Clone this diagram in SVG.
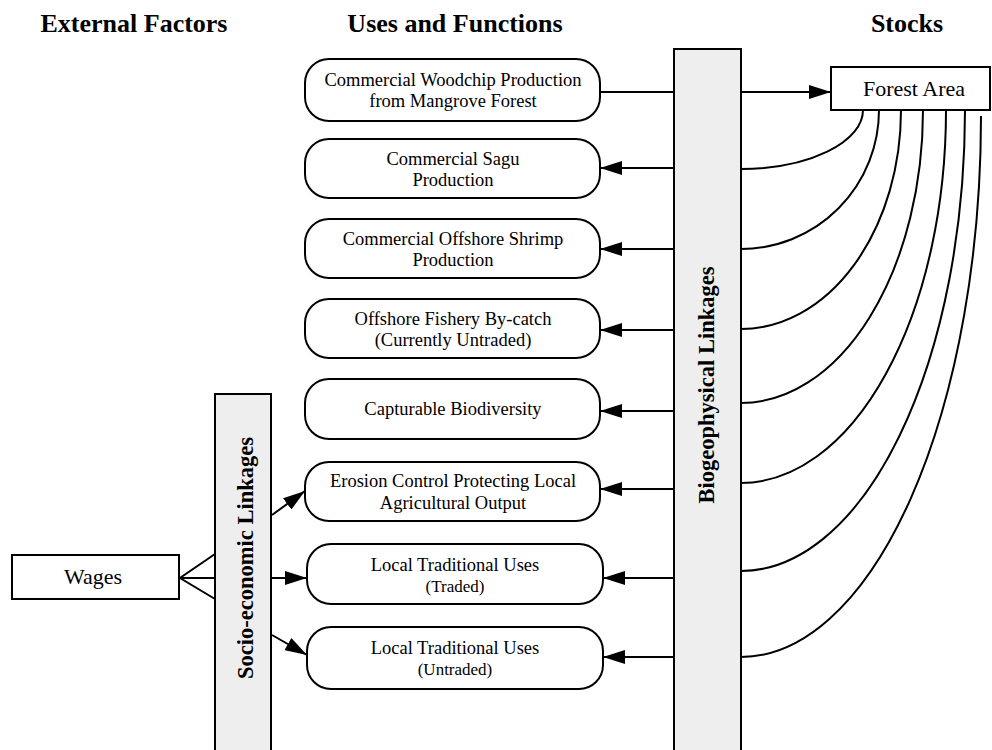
<svg xmlns="http://www.w3.org/2000/svg" width="992" height="750" viewBox="0 0 992 750">
<defs>
<marker id="ah" viewBox="0 0 22 14" refX="22" refY="7" markerWidth="22" markerHeight="14" markerUnits="userSpaceOnUse" orient="auto"><path d="M0,0 L22,7 L0,14 Z" fill="#000"/></marker>
</defs>
<style>
text{font-family:"Liberation Serif","Times New Roman",serif;fill:#000}
.hdr{font-weight:bold;font-size:26px;text-anchor:middle}
.t{font-size:18.5px;text-anchor:middle}
.ts{font-size:17px}
.big{font-size:22px;text-anchor:middle}
.box{fill:#fff;stroke:#000;stroke-width:2}
.bar{fill:#eeeeee;stroke:#000;stroke-width:2}
.vt{font-weight:bold;font-size:22.5px;text-anchor:middle}
.ln{fill:none;stroke:#000;stroke-width:2}
.ar{fill:none;stroke:#000;stroke-width:2;marker-end:url(#ah)}
</style>
<rect width="992" height="750" fill="#fff"/>

<g id="headers">
<text class="hdr" x="134" y="32">External Factors</text>
<text class="hdr" x="455" y="32">Uses and Functions</text>
<text class="hdr" x="907" y="32">Stocks</text>
</g>

<g id="connectors">
<line class="ln" x1="600" y1="92" x2="674" y2="92"/>
<line class="ar" x1="741" y1="92" x2="831" y2="92"/>
<line class="ar" x1="674" y1="168" x2="600" y2="168"/>
<line class="ar" x1="674" y1="249" x2="600" y2="249"/>
<line class="ar" x1="674" y1="330" x2="600" y2="330"/>
<line class="ar" x1="674" y1="411" x2="600" y2="411"/>
<line class="ar" x1="674" y1="489" x2="600" y2="489"/>
<line class="ar" x1="674" y1="578" x2="603" y2="578"/>
<line class="ar" x1="674" y1="657" x2="603" y2="657"/>
<path class="ln" d="M863,110 A122,59 0 0 1 741,169"/>
<path class="ln" d="M879,110 A138,139 0 0 1 741,249"/>
<path class="ln" d="M901,110 A160,219 0 0 1 741,329"/>
<path class="ln" d="M923,110 A182,293 0 0 1 741,403"/>
<path class="ln" d="M946,110 A205,373 0 0 1 741,483"/>
<path class="ln" d="M965,110 A224,461 0 0 1 741,571"/>
<path class="ln" d="M981,116 A240,541 0 0 1 741,657"/>
<path class="ln" d="M215,554 L180,578 L215,599 M180,578 L215,578"/>
<line class="ar" x1="272" y1="515" x2="305" y2="491"/>
<line class="ar" x1="272" y1="578" x2="307" y2="578"/>
<line class="ar" x1="272" y1="635" x2="307" y2="655"/>
</g>

<g id="bio-bar">
<rect class="bar" x="674" y="49" width="67" height="720"/>
<text class="vt" x="714" y="385" transform="rotate(-90 714 385)">Biogeophysical Linkages</text>
</g>

<g id="socio-bar">
<rect class="bar" x="215" y="394" width="56" height="380"/>
<text class="vt" x="253" y="558" transform="rotate(-90 253 558)">Socio-economic Linkages</text>
</g>

<g id="forest-area">
<rect class="box" x="831" y="67" width="159" height="43"/>
<text class="big" x="914" y="96">Forest Area</text>
</g>

<g id="wages">
<rect class="box" x="12" y="555" width="167" height="44"/>
<text class="big" x="93" y="584">Wages</text>
</g>

<g id="woodchip">
<rect class="box" x="305" y="59" width="295" height="62" rx="24"/>
<text class="t" x="453" y="86">Commercial Woodchip Production</text>
<text class="t" x="453" y="107">from Mangrove Forest</text>
</g>

<g id="sagu">
<rect class="box" x="305" y="139" width="295" height="59" rx="24"/>
<text class="t" x="453" y="165">Commercial Sagu</text>
<text class="t" x="453" y="186">Production</text>
</g>

<g id="shrimp">
<rect class="box" x="305" y="219" width="295" height="59" rx="24"/>
<text class="t" x="453" y="245">Commercial Offshore Shrimp</text>
<text class="t" x="453" y="266">Production</text>
</g>

<g id="bycatch">
<rect class="box" x="305" y="299" width="295" height="59" rx="24"/>
<text class="t" x="453" y="325">Offshore Fishery By-catch</text>
<text class="t" x="453" y="346">(Currently Untraded)</text>
</g>

<g id="biodiversity">
<rect class="box" x="305" y="379" width="295" height="60" rx="24"/>
<text class="t" x="453" y="415">Capturable Biodiversity</text>
</g>

<g id="erosion">
<rect class="box" x="305" y="462" width="295" height="59" rx="24"/>
<text class="t" x="453" y="487">Erosion Control Protecting Local</text>
<text class="t" x="453" y="509">Agricultural Output</text>
</g>

<g id="local-traded">
<rect class="box" x="307" y="544" width="296" height="60" rx="24"/>
<text class="t" x="455" y="571">Local Traditional Uses</text>
<text class="t ts" x="455" y="592">(Traded)</text>
</g>

<g id="local-untraded">
<rect class="box" x="307" y="627" width="296" height="62" rx="24"/>
<text class="t" x="455" y="654">Local Traditional Uses</text>
<text class="t ts" x="455" y="675">(Untraded)</text>
</g>
</svg>
